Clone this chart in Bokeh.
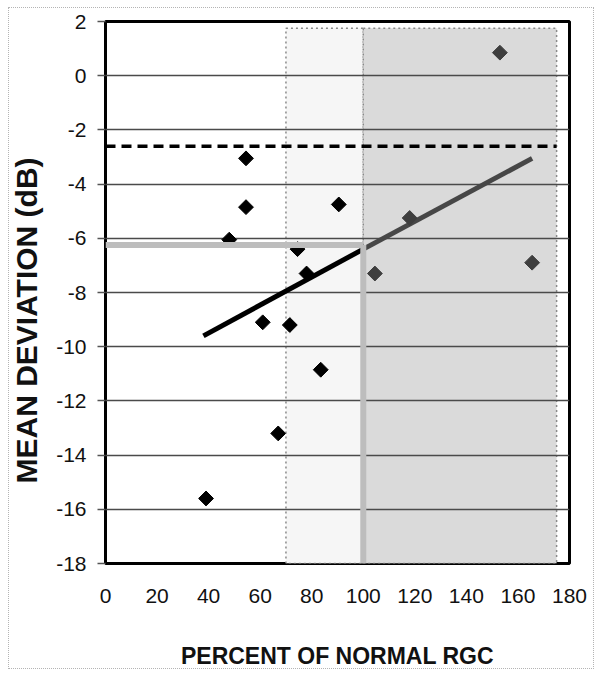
import numpy as np
from bokeh.plotting import figure
from bokeh.models import Title, FixedTicker, Range1d, GlobalInlineStyleSheet
from bokeh.embed import file_html
from bokeh.resources import INLINE

# ---- data ----
rgc_pct = [39, 48, 54.5, 54.5, 61, 67, 71.5, 74.5, 78, 83.5, 90.5, 104.5, 118, 153, 165.5]
md_db = [-15.6, -6.05, -3.05, -4.85, -9.1, -13.2, -9.2, -6.4, -7.3, -10.85, -4.75, -7.3, -5.25, 0.85, -6.9]

x_ticks = [0, 20, 40, 60, 80, 100, 120, 140, 160, 180]
y_ticks = [-18, -16, -14, -12, -10, -8, -6, -4, -2, 0, 2]

light_zone = [70, 100]
dark_zone = [100, 175]
zone_top = 1.75
normal_md = -2.6
cutoff_pct = 100
cutoff_md = -6.25
fit_x = [38, 100, 165.5]
fit_y = [-9.6, -6.4, -3.05]

X_MIN, X_MAX = 0, 180
Y_MIN, Y_MAX = -18, 2

FONT = "Liberation Sans"

p = figure(width=601, height=676,
           x_range=Range1d(X_MIN, X_MAX), y_range=Range1d(Y_MIN, Y_MAX),
           output_backend="svg", toolbar_location=None,
           min_border_left=105, min_border_top=21,
           min_border_right=32, min_border_bottom=113)
# faint dotted frame around the whole figure, as in the reference
p.stylesheets = [GlobalInlineStyleSheet(css=(
    "html::after { content: ''; position: fixed; left: 8px; top: 7px; "
    "width: 586px; height: 662px; box-sizing: border-box; "
    "border: 1px dotted #b4b4b4; pointer-events: none; z-index: 10; }"))]
p.background_fill_color = "white"
p.border_fill_color = "white"
p.outline_line_color = "black"
p.outline_line_width = 3

# shaded zones
p.quad(left=[light_zone[0]], right=[light_zone[1]], top=[zone_top], bottom=[Y_MIN],
       fill_color="#f6f6f6", line_color="#8a8a8a", line_dash="2 3", line_width=1.5,
       level="image")
p.quad(left=[dark_zone[0]], right=[dark_zone[1]], top=[zone_top], bottom=[Y_MIN],
       fill_color="#dadada", line_color="#8a8a8a", line_dash="2 3", line_width=1.5,
       level="image")

# grid
p.xgrid.grid_line_color = None
p.ygrid.grid_line_color = "#4a4a4a"
p.ygrid.grid_line_width = 1.5
p.ygrid.ticker = FixedTicker(ticks=y_ticks)

# normal limit dashed line
p.line([X_MIN, dark_zone[1]], [normal_md, normal_md], line_color="black",
       line_width=3.5, line_dash="10 6")

# regression line
p.line(fit_x[:2], fit_y[:2], line_color="black", line_width=5)
p.line(fit_x[1:], fit_y[1:], line_color="#474747", line_width=5)

# points
xs = np.array(rgc_pct)
ys = np.array(md_db)
left_mask = xs < cutoff_pct
p.scatter(xs[left_mask], ys[left_mask], marker="square", size=10.5, angle=np.pi / 4,
          fill_color="black", line_color="black")
p.scatter(xs[~left_mask], ys[~left_mask], marker="square", size=10.5, angle=np.pi / 4,
          fill_color="#3e3e3e", line_color="#3e3e3e")

# cutoff gray lines
p.line([X_MIN, cutoff_pct], [cutoff_md, cutoff_md], line_color="#bdbdbd", line_width=6)
p.line([cutoff_pct, cutoff_pct], [Y_MIN, cutoff_md], line_color="#bdbdbd", line_width=6)

# axes
p.xaxis.ticker = FixedTicker(ticks=x_ticks)
p.yaxis.ticker = FixedTicker(ticks=y_ticks)
p.xaxis.major_label_overrides = {t: str(t) for t in x_ticks}
p.yaxis.major_label_overrides = {t: str(t) for t in y_ticks}
for ax in (p.xaxis[0], p.yaxis[0]):
    ax.axis_line_color = None
    ax.minor_tick_line_color = None
    ax.major_label_text_font = FONT
    ax.major_label_text_font_size = "21px"
    ax.major_label_text_color = "#111111"

p.xaxis.major_tick_line_color = None
p.xaxis.major_tick_out = 0
p.xaxis.major_tick_in = 0
p.xaxis.major_label_standoff = 25
p.xaxis.axis_label = "PERCENT OF NORMAL RGC"
p.xaxis.axis_label_text_font = FONT
p.xaxis.axis_label_text_font_style = "bold"
p.xaxis.axis_label_text_font_size = "23px"
p.xaxis.axis_label_text_color = "#111111"
p.xaxis.axis_label_standoff = 37

p.yaxis.major_tick_line_color = "#555555"
p.yaxis.major_tick_line_width = 1.5
p.yaxis.major_tick_out = 8
p.yaxis.major_tick_in = 0
p.yaxis.major_label_standoff = 11

ytitle = Title(text="MEAN DEVIATION (dB)", align="left", offset=80,
               vertical_align="top", standoff=17,
               text_font=FONT, text_font_style="bold", text_font_size="30px",
               text_color="#111111")
p.add_layout(ytitle, "left")

open("out.html", "w").write(file_html(p, INLINE))
